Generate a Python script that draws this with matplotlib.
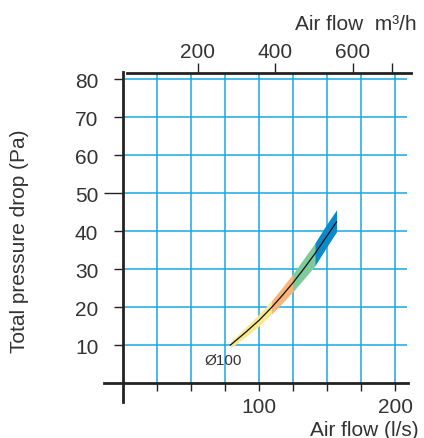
import numpy as np
import matplotlib
matplotlib.use('Agg')
import matplotlib.pyplot as plt

plt.rcParams['font.family'] = ['Liberation Sans', 'DejaVu Sans']

# curve (l/s, Pa)
flow = [79, 90, 100, 109, 117, 125, 133, 141, 149, 157]
dp = [10.0, 13.3, 16.5, 19.8, 23.0, 26.4, 30.1, 34.0, 38.2, 42.4]
band_lo = [9.2, 12.1, 15.0, 18.1, 21.0, 24.1, 27.4, 30.8, 35.4, 39.8]
band_hi = [10.9, 14.6, 18.1, 21.6, 25.1, 28.8, 32.8, 36.8, 41.4, 45.6]

# colour segments (index ranges into flow)
seg_start = [0, 3, 5, 7]
seg_end = [3, 5, 7, 9]
seg_colors = ['#f9e98c', '#f8b57a', '#7fca9b', '#0a8acb']

bottom_ticks = [25, 50, 75, 100, 125, 150, 175, 200]
bottom_labels = ['', '', '', '100', '', '', '', '200']
left_ticks = [10, 20, 30, 40, 50, 60, 70, 80]
top_ticks_ls = [55, 112, 169, 198]
top_labels = ['200', '400', '600', '']

grid_col = '#19a7e2'
axis_col = '#222222'
text_col = '#333333'
fs = 15

fig = plt.figure(figsize=(4.24, 4.39), dpi=100)
ax = fig.add_axes([0.242, 0.082, 0.7314, 0.7494])
ax.set_xlim(-15, 213)
ax.set_ylim(-5, 81.6)

# grid (stops at the axes, not the frame)
ax.vlines(bottom_ticks, 0, 81.6, color=grid_col, lw=1.1, zorder=1)
ax.hlines(left_ticks, 0, 209, color=grid_col, lw=1.1, zorder=1)

# band + curve
x = np.array(flow)
for s, e, c in zip(seg_start, seg_end, seg_colors):
    ax.fill_between(x[s:e + 1], band_lo[s:e + 1], band_hi[s:e + 1],
                    color=c, lw=0, zorder=2)
ax.plot(flow, dp, color='#111111', lw=0.9, zorder=3)
ax.text(60, 6, 'Ø100', fontsize=11, color=text_col, ha='left', va='center')

# spines
ax.spines['right'].set_visible(False)
ax.spines['left'].set_position(('data', 0))
ax.spines['bottom'].set_position(('data', 0))
ax.spines['left'].set_bounds(-5, 81.9)
ax.spines['bottom'].set_bounds(-14, 209.5)
ax.spines['top'].set_bounds(3, 212)
for side in ['left', 'bottom', 'top']:
    ax.spines[side].set_linewidth(2.0)
    ax.spines[side].set_color(axis_col)

ax.set_xticks(bottom_ticks)
ax.set_xticklabels(bottom_labels)
ax.set_yticks(left_ticks)
ax.tick_params(axis='x', direction='out', length=5.8, width=1.0,
               color=axis_col, labelsize=fs, labelcolor=text_col, pad=4)
ax.tick_params(axis='y', direction='out', length=6.8, width=1.0,
               color=axis_col, labelsize=fs, labelcolor=text_col, pad=11)
ax.yaxis.get_major_ticks()[4].tick1line.set_markersize(14)

# top axis in m3/h
top = ax.twiny()
top.set_xlim(ax.get_xlim())
for side in ['left', 'right', 'bottom', 'top']:
    top.spines[side].set_visible(False)
top.set_xticks(top_ticks_ls)
top.set_xticklabels(top_labels)
top.tick_params(axis='x', direction='out', length=7, width=1.0,
                color=axis_col, labelsize=fs, labelcolor=text_col, pad=2)

fig.text(20 / 424, 1 - 241 / 439, 'Total pressure drop (Pa)', rotation=90,
         fontsize=fs, color=text_col, ha='center', va='center')
fig.text(419 / 424, 1 - 431 / 439, 'Air flow (l/s)', fontsize=fs,
         color=text_col, ha='right', va='center')
fig.text(417 / 424, 1 - 24 / 439, 'Air flow  m³/h', fontsize=fs,
         color=text_col, ha='right', va='center')

fig.savefig('out.png', dpi=100)
